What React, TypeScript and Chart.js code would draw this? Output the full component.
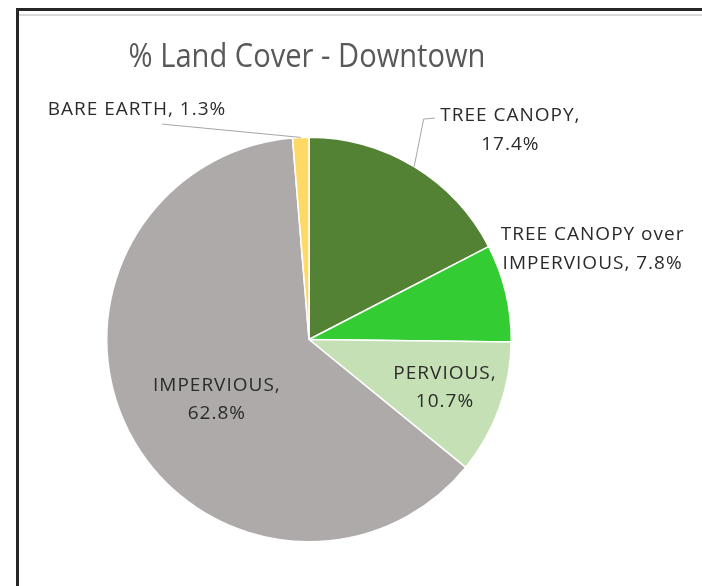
import React, { useEffect, useRef } from "react";
import { Chart, registerables } from "chart.js";

Chart.register(...registerables);

// ---- data ----
const TITLE = "% Land Cover - Downtown";
const categories = [
  "TREE CANOPY",
  "TREE CANOPY over IMPERVIOUS",
  "PERVIOUS",
  "IMPERVIOUS",
  "BARE EARTH",
];
const values = [17.4, 7.8, 10.7, 62.8, 1.3];
const colors = ["#548235", "#33cc33", "#c5e0b4", "#aeaaaa", "#ffd966"];
// number of words on the first line of each data label (0 = single line)
const labelBreakWords = [2, 3, 1, 1, 0];

// ---- layout (fractions of the pie radius, relative to pie centre) ----
const labelPos: [number, number][] = [
  [0.993, -1.08],
  [1.4, -0.49],
  [0.67, 0.194],
  [-0.458, 0.254],
  [-0.853, -1.109],
];
const leaderPts: ([number, number][] | null)[] = [
  [
    [0.567, -1.09],
    [0.622, -1.095],
  ],
  null,
  null,
  null,
  [[-0.726, -1.065]],
];

const W = 702;
const H = 586;

function labelLines(i: number): string[] {
  const full = `${categories[i]}, ${values[i].toFixed(1)}%`;
  const n = labelBreakWords[i];
  if (!n) return [full];
  const words = full.split(" ");
  return [words.slice(0, n).join(" "), words.slice(n).join(" ")];
}

const decorPlugin = {
  id: "decor",
  beforeDraw(chart: any) {
    const ctx = chart.ctx;
    ctx.save();
    ctx.fillStyle = "#ffffff";
    ctx.fillRect(0, 0, W, H);
    // frame
    ctx.fillStyle = "#262626";
    ctx.fillRect(16, 8, 3, H - 8);
    ctx.fillRect(16, 8, W - 16, 3);
    ctx.fillStyle = "#d9d9d9";
    ctx.fillRect(19, 14, W - 19, 2);
    ctx.restore();
  },
  afterDraw(chart: any) {
    const ctx = chart.ctx;
    const arcs = chart.getDatasetMeta(0).data;
    if (!arcs.length) return;
    const a0 = arcs[0];
    const cx = a0.x;
    const cy = a0.y;
    const R = a0.outerRadius;

    ctx.save();
    // title
    ctx.fillStyle = "#595959";
    ctx.font = '32px "Open Sans"';
    ctx.textAlign = "center";
    ctx.textBaseline = "alphabetic";
    ctx.save();
    ctx.translate(cx - 2, 67);
    ctx.scale(0.91, 1);
    ctx.fillText(TITLE, 0, 0);
    ctx.restore();

    // leader lines
    ctx.strokeStyle = "#a6a6a6";
    ctx.lineWidth = 1;
    arcs.forEach((arc: any, i: number) => {
      const pts = leaderPts[i];
      if (!pts) return;
      const mid = (arc.startAngle + arc.endAngle) / 2;
      ctx.beginPath();
      ctx.moveTo(cx + Math.cos(mid) * R, cy + Math.sin(mid) * R);
      pts.forEach(([fx, fy]) => ctx.lineTo(cx + fx * R, cy + fy * R));
      ctx.stroke();
    });

    // data labels
    ctx.fillStyle = "#2b2b2b";
    ctx.font = '19px "Open Sans"';
    ctx.textAlign = "center";
    try {
      (ctx as any).letterSpacing = "1px";
    } catch (e) {}
    arcs.forEach((_arc: any, i: number) => {
      const [fx, fy] = labelPos[i];
      const lx = cx + fx * R + 0.5;
      const ly = cy + fy * R;
      labelLines(i).forEach((t, k) => ctx.fillText(t, lx, ly + k * 28.5));
    });
    try {
      (ctx as any).letterSpacing = "0px";
    } catch (e) {}
    ctx.restore();
  },
};

export default function App() {
  const ref = useRef<HTMLCanvasElement | null>(null);
  useEffect(() => {
    if (!ref.current) return;
    const chart = new Chart(ref.current, {
      type: "pie",
      data: {
        labels: categories,
        datasets: [
          {
            data: values,
            backgroundColor: colors,
            borderColor: "#ffffff",
            borderWidth: 1.5,
          },
        ],
      },
      options: {
        responsive: false,
        animation: false,
        layout: { padding: { left: 106, right: 190, top: 136, bottom: 43 } },
        plugins: {
          legend: { display: false },
          title: { display: false },
          tooltip: { enabled: false },
        },
      },
      plugins: [decorPlugin],
    });
    return () => chart.destroy();
  }, []);
  return (
    <div style={{ position: "fixed", left: 0, top: 0, width: W, height: H, background: "#fff" }}>
      <canvas ref={ref} width={W} height={H} style={{ display: "block" }} />
    </div>
  );
}
